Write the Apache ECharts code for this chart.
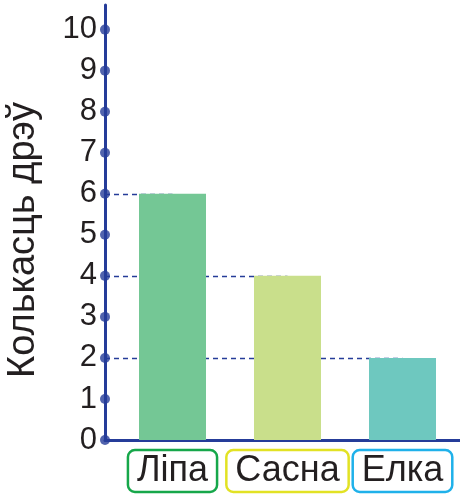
<!DOCTYPE html>
<html>
<head>
<meta charset="utf-8">
<script src="https://cdn.jsdelivr.net/npm/echarts@6/dist/echarts.min.js"></script>
<style>
html,body{margin:0;padding:0;background:#fff;}
#chart{width:460px;height:496px;}
</style>
</head>
<body>
<div id="chart"></div>
<script>
// trees counted per kind
var categories = ["Ліпа", "Сасна", "Елка"];
var treeCounts = [6, 4, 2];
var yTicks = [0, 1, 2, 3, 4, 5, 6, 7, 8, 9, 10];
var barColors = ["#74c795", "#c9df8b", "#6ec8bf"];
var boxColors = ["#16a74a", "#e2e224", "#1fb1ea"];

var AXIS = "#253c99";
var AXIS_X = 105;
var FONT = "Liberation Sans, Arial, sans-serif";
var Y_MAX = 10.6;

var ch = echarts.init(document.getElementById("chart"), null, {renderer:"canvas"});
ch.setOption({
  animation:false,
  backgroundColor:"#fff",
  grid:[
    { left:AXIS_X, right:0, top:5, bottom:56, containLabel:false, outerBoundsMode:"none" },
    { left:115, right:0, top:5, bottom:56, containLabel:false, outerBoundsMode:"none" }
  ],
  xAxis:[
    { gridIndex:0, type:"value", min:0, max:1,
      axisLine:{show:true, onZero:false, lineStyle:{color:AXIS, width:3}},
      axisTick:{show:false}, axisLabel:{show:false}, splitLine:{show:false} },
    { gridIndex:1, type:"category", data:categories.map(function(c, i){
        return { value:c, textStyle:{ borderColor:boxColors[i] } };
      }),
      axisLine:{show:false}, axisTick:{show:false}, splitLine:{show:false},
      axisLabel:{ interval:0, hideOverlap:false, margin:10, color:"#231f20",
        fontFamily:FONT, fontSize:36, lineHeight:38, padding:[2,9,2,9],
        borderWidth:2.5, borderRadius:7 } }
  ],
  yAxis:[
    { gridIndex:0, type:"value", min:0, max:Y_MAX, interval:1,
      axisLine:{show:true, lineStyle:{color:AXIS, width:3}},
      axisTick:{show:false}, splitLine:{show:false},
      axisLabel:{ margin:8, color:"#231f20", fontFamily:FONT, fontSize:31,
        formatter:function(v){ return yTicks.indexOf(v) >= 0 ? String(v) : ""; } },
      name:"Колькасць дрэў", nameLocation:"middle", nameRotate:90, nameGap:62,
      nameTextStyle:{ color:"#231f20", fontFamily:FONT, fontSize:38, padding:[0,35,0,0] } },
    { gridIndex:1, type:"value", min:0, max:Y_MAX, show:false }
  ],
  series:[
    { type:"bar", xAxisIndex:1, yAxisIndex:1, barWidth:67, z:3,
      data:treeCounts.map(function(v, i){ return { value:v, itemStyle:{color:barColors[i]} }; }),
      markLine:{ z:1, silent:true, symbol:"none", label:{show:false},
        lineStyle:{ color:AXIS, width:1.3, type:[5,4] },
        data:treeCounts.map(function(v, i){
          return [ { x:AXIS_X, yAxis:v }, { xAxis:categories[i], yAxis:v } ];
        }) } },
    { type:"scatter", xAxisIndex:0, yAxisIndex:0, symbol:"circle", symbolSize:10, z:5,
      clip:false, itemStyle:{color:AXIS},
      data:yTicks.map(function(t){ return [0, t]; }) }
  ]
});
</script>
</body>
</html>
